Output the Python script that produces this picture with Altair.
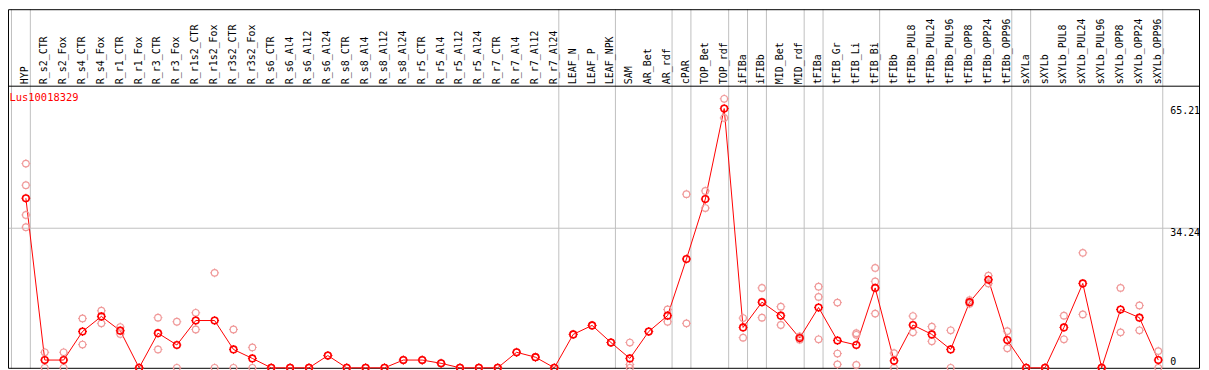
import altair as alt
import pandas as pd

samples = ["HYP", "R_s2_CTR", "R_s2_Fox", "R_s4_CTR", "R_s4_Fox", "R_r1_CTR", "R_r1_Fox",
           "R_r3_CTR", "R_r3_Fox", "R_r1s2_CTR", "R_r1s2_Fox", "R_r3s2_CTR", "R_r3s2_Fox",
           "R_s6_CTR", "R_s6_Al4", "R_s6_Al12", "R_s6_Al24", "R_s8_CTR", "R_s8_Al4",
           "R_s8_Al12", "R_s8_Al24", "R_r5_CTR", "R_r5_Al4", "R_r5_Al12", "R_r5_Al24",
           "R_r7_CTR", "R_r7_Al4", "R_r7_Al12", "R_r7_Al24", "LEAF_N", "LEAF_P", "LEAF_NPK",
           "SAM", "AR_Bet", "AR_rdf", "cPAR", "TOP_Bet", "TOP_rdf", "iFIBa", "iFIBb",
           "MID_Bet", "MID_rdf", "tFIBa", "tFIB_Gr", "tFIB_Li", "tFIB_Bi", "tFIBb",
           "tFIBb_PUL8", "tFIBb_PUL24", "tFIBb_PUL96", "tFIBb_OPP8", "tFIBb_OPP24",
           "tFIBb_OPP96", "sXYLa", "sXYLb", "sXYLb_PUL8", "sXYLb_PUL24", "sXYLb_PUL96",
           "sXYLb_OPP8", "sXYLb_OPP24", "sXYLb_OPP96"]

means = [41.6, 1.9, 1.9, 8.9, 12.6, 9.1, 0.0, 8.5, 5.6, 11.6, 11.6, 4.5, 2.3,
         0.0, 0.0, 0.0, 3.0, 0.0, 0.0, 0.0, 1.9, 1.9, 1.1, 0.0, 0.0,
         0.0, 3.8, 2.6, 0.0, 8.2, 10.4, 6.2, 2.3, 8.9, 12.8, 26.7, 41.4, 63.6,
         9.9, 16.1, 12.8, 7.3, 14.8, 6.7, 5.6, 19.6, 1.7, 10.5, 8.2, 4.5, 16.1,
         21.6, 6.8, 0.0, 0.0, 9.9, 20.7, 0.0, 14.3, 12.3, 1.9]

replicates = [
    [50.1, 44.8, 37.5, 34.5], [3.8, 0.0], [3.8, 0.0], [12.1, 5.7], [14.0, 10.9],
    [10.0, 8.3], [0.0, 0.0], [12.3, 4.5], [11.3, 0.0], [13.5, 9.4], [23.3, 0.0],
    [9.4, 0.0], [5.0, 0.0], [0.0, 0.0], [0.0, 0.0], [0.0, 0.0], [3.0, 3.0],
    [0.0, 0.0], [0.0, 0.0], [0.0, 0.0], [1.9, 1.9], [1.9, 1.9], [1.1, 1.1],
    [0.0, 0.0], [0.0, 0.0], [0.0, 0.0], [3.8, 3.8], [2.6, 2.6], [0.0, 0.0],
    [8.2, 8.2], [10.4, 10.4], [6.2, 6.2], [6.2, 0.8, 0.0], [8.9, 8.9],
    [14.3, 11.3], [42.6, 10.9], [43.4, 39.2], [66.0, 61.3], [12.2, 7.4],
    [19.6, 12.3], [15.0, 10.5], [7.7, 6.9], [19.9, 17.4, 7.0], [16.0, 3.5, 0.85],
    [8.5, 8.1, 0.7], [24.5, 21.2, 13.3], [3.6, 0.0], [12.7, 8.7], [10.1, 6.5],
    [9.2, 0.0], [16.6, 15.7], [22.6, 20.7], [9.0, 4.8], [0.0, 0.0], [0.0, 0.0],
    [12.8, 7.0], [28.2, 13.1], [0.0, 0.0], [19.6, 8.7], [15.3, 9.2], [4.1, 0.0]]

# group separators are drawn just after these sample indices
separators_after = [-1, 0, 28, 31, 34, 35, 37, 38, 39, 41, 42, 45, 52, 53, 60]

gene = "Lus10018329"
mid_tick = 34.24
tick_labels = ["65.21", "34.24", "0"]

W, H = 1201, 362
xs = alt.Scale(domain=[-18 / 19, (W - 18) / 19], nice=False, zero=False)
ys = alt.Scale(domain=[-0.2437, 87.976], nice=False, zero=False)

df_mean = pd.DataFrame({"idx": list(range(len(samples))), "sample": samples, "mean": means})
rows = []
for i, reps in enumerate(replicates):
    for r in reps:
        rows.append({"idx": i, "rep": r})
df_rep = pd.DataFrame(rows)
df_sep = pd.DataFrame({"pos": [s + 4.5 / 19 for s in separators_after]})

MONO = "DejaVu Sans Mono"
ticks_shape = "M0,-1L0,-0.72M0,0.72L0,1M-1,0L-0.72,0M0.72,0L1,0"

seps = alt.Chart(df_sep).mark_rule(color="#c0c0c0", strokeWidth=1).encode(
    x=alt.X("pos:Q", scale=xs, axis=None),
    y=alt.value(0), y2=alt.value(H))

grid = alt.Chart(pd.DataFrame({"v": [mid_tick]})).mark_rule(color="#c0c0c0", strokeWidth=1).encode(
    y=alt.Y("v:Q", scale=ys, axis=None),
    x=alt.value(0), x2=alt.value(W - 2))

header_line = alt.Chart(pd.DataFrame({"a": [0]})).mark_rule(color="black", strokeWidth=1).encode(
    y=alt.value(77.5), x=alt.value(0), x2=alt.value(W - 2))

frame = alt.Chart(pd.DataFrame({"a": [0]})).mark_rect(
    fill=None, stroke="black", strokeWidth=1).encode(
    x=alt.value(0.5), x2=alt.value(W - 1.5), y=alt.value(0.5), y2=alt.value(H - 0.5))

col_labels = alt.Chart(df_mean).mark_text(
    angle=270, align="left", baseline="middle", font=MONO, fontSize=10, color="black", dy=-0.5
).encode(
    x=alt.X("idx:Q", scale=xs, axis=None),
    y=alt.value(75.5),
    text="sample:N")

line = alt.Chart(df_mean).mark_line(color="#ff0000", strokeWidth=1).encode(
    x=alt.X("idx:Q", scale=xs, axis=None),
    y=alt.Y("mean:Q", scale=ys, axis=None))


def markers(df, field, color, sw):
    enc = dict(x=alt.X("idx:Q", scale=xs, axis=None),
               y=alt.Y(f"{field}:Q", scale=ys, axis=None))
    ring = alt.Chart(df).mark_point(
        shape="circle", size=44, filled=False, color=color, strokeWidth=sw, opacity=1
    ).encode(**enc)
    tk = alt.Chart(df).mark_point(
        shape=ticks_shape, size=81, filled=False, color=color, strokeWidth=1, opacity=1
    ).encode(**enc)
    return [ring, tk]


rep_layers = markers(df_rep, "rep", "#f09a9a", 1.2)
mean_layers = markers(df_mean, "mean", "#ff0000", 1.6)

title = alt.Chart(pd.DataFrame({"t": [gene]})).mark_text(
    align="left", baseline="middle", font=MONO, fontSize=10.5, color="#ff0000"
).encode(x=alt.value(1.5), y=alt.value(89.5), text="t:N")

tick_top = alt.Chart(pd.DataFrame({"t": [tick_labels[0]]})).mark_text(
    align="left", baseline="top", font=MONO, fontSize=10, color="black"
).encode(x=alt.value(1170), y=alt.value(97), text="t:N")

tick_mid = alt.Chart(pd.DataFrame({"t": [tick_labels[1]], "v": [mid_tick]})).mark_text(
    align="left", baseline="top", font=MONO, fontSize=10, color="black"
).encode(x=alt.value(1170), y=alt.Y("v:Q", scale=ys, axis=None), text="t:N")

tick_zero = alt.Chart(pd.DataFrame({"t": [tick_labels[2]]})).mark_text(
    align="left", baseline="top", font=MONO, fontSize=10, color="black"
).encode(x=alt.value(1170), y=alt.value(350), text="t:N")

chart = alt.layer(
    seps, grid, header_line, frame, col_labels, line, *rep_layers, *mean_layers,
    title, tick_top, tick_mid, tick_zero
).properties(
    width=W, height=H, padding=0, autosize=alt.AutoSizeParams(type="none")
).configure_view(stroke=None)

chart.save("out.html", embed_options={"renderer": "svg", "actions": False})
